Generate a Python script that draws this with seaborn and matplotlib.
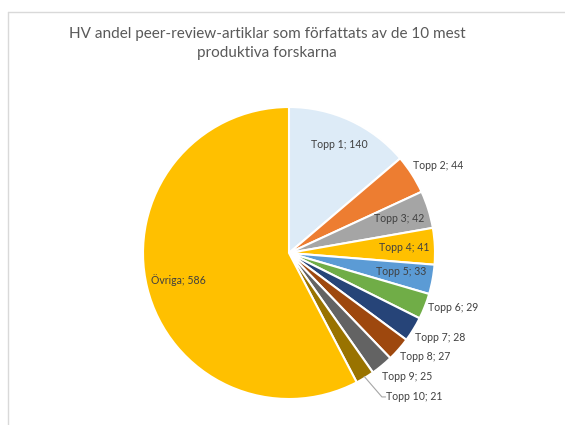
import numpy as np
import matplotlib
matplotlib.use("Agg")
import matplotlib.pyplot as plt
import seaborn as sns
from matplotlib.lines import Line2D

sns.set_theme(style="white")
plt.rcParams['font.family'] = ['Lato', 'DejaVu Sans']

# Data
categories = ["Topp 1", "Topp 2", "Topp 3", "Topp 4", "Topp 5", "Topp 6",
              "Topp 7", "Topp 8", "Topp 9", "Topp 10", "Övriga"]
values = [140, 44, 42, 41, 33, 29, 28, 27, 25, 21, 586]
colors = ["#DDEBF7", "#ED7D31", "#A5A5A5", "#FFC000", "#5B9BD5", "#70AD47",
          "#264478", "#9E480E", "#636363", "#997300", "#FFC000"]
title = "HV andel peer-review-artiklar som författats av de 10 mest\nproduktiva forskarna"

# label layout: radius (fraction of pie radius), angle shift (deg), horizontal alignment
label_r = [0.82, 1.04, 0.79, 0.79, 0.78, 1.02, 1.04, 1.04, 1.06, 1.19, 0.78]
label_shift = [0, 2.8, 0, 0, 1, 0, -2.5, -1.8, -2.6, 2.7, 0]
label_ha = ["center", "left", "center", "center", "center", "left",
            "left", "left", "left", "left", "center"]

W, H = 565, 425
fig = plt.figure(figsize=(W / 100, H / 100), dpi=100)

# pie centre (289, 253) px, radius 146 px
cx, cy, rad = 289, 253, 146
half = 1.4
ax = fig.add_axes([(cx - rad * half) / W, (H - cy - rad * half) / H,
                   2 * rad * half / W, 2 * rad * half / H])
wedges, _ = ax.pie(values, colors=colors, startangle=90, counterclock=False,
                   radius=1.0, wedgeprops=dict(edgecolor="white", linewidth=1.5))
ax.set_xlim(-half, half)
ax.set_ylim(-half, half)
ax.set_aspect("equal")
ax.axis("off")

for i, w in enumerate(wedges):
    mid = np.deg2rad((w.theta1 + w.theta2) / 2 + label_shift[i])
    x = label_r[i] * np.cos(mid)
    y = label_r[i] * np.sin(mid)
    ax.text(x, y, f"{categories[i]}; {values[i]}", ha=label_ha[i], va="center",
            fontsize=7.6, color="#404040")
    if categories[i] == "Topp 10":
        emid = np.deg2rad((w.theta1 + w.theta2) / 2)
        ex, ey = 0.99 * np.cos(emid), 0.99 * np.sin(emid)
        ax.plot([ex, x - 0.03, x - 0.005], [ey, y, y], color="#A6A6A6", lw=0.8,
                clip_on=False)

fig.text(267 / W, 1 - 27 / H, title, ha="center", va="top", fontsize=11,
         color="#595959", linespacing=1.45)

# chart area border (top and left visible)
fig.add_artist(Line2D([8 / W, 1], [1 - 12 / H, 1 - 12 / H], color="#D9D9D9",
                      lw=1, transform=fig.transFigure))
fig.add_artist(Line2D([8 / W, 8 / W], [0, 1 - 12 / H], color="#D9D9D9",
                      lw=1, transform=fig.transFigure))

fig.savefig("out.png", dpi=100)
